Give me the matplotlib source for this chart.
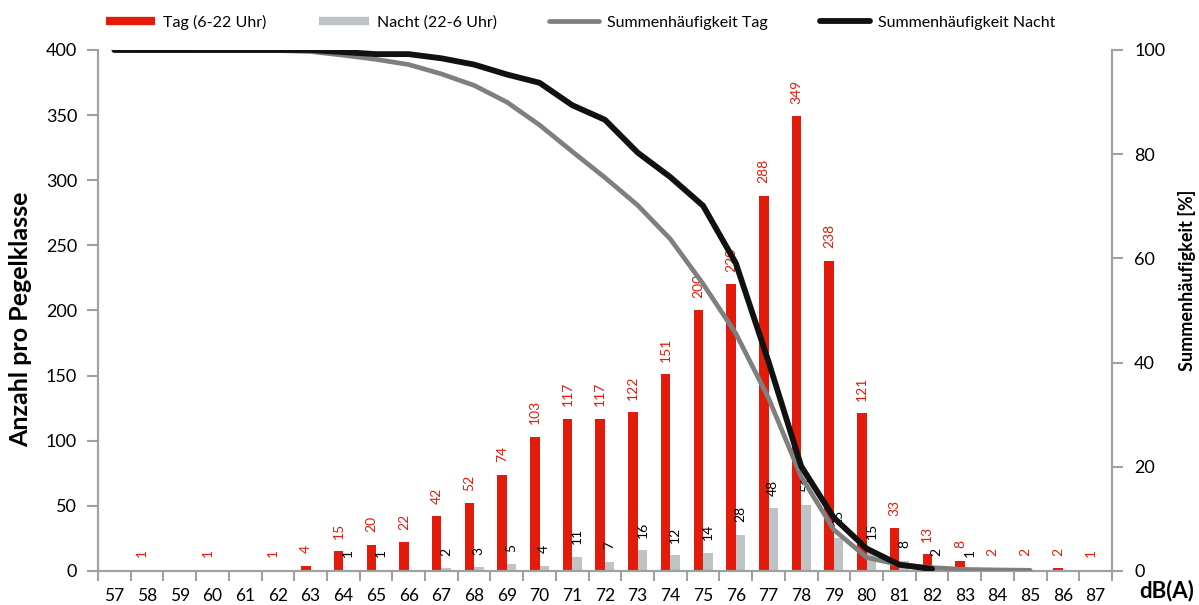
import numpy as np
import matplotlib
matplotlib.use("Agg")
import matplotlib.pyplot as plt
from matplotlib.lines import Line2D

plt.rcParams['font.family'] = ['Lato', 'DejaVu Sans']

# Pegelklassen dB(A)
classes = list(range(57, 88))

# Anzahl pro Pegelklasse
tag = [0, 1, 0, 1, 0, 1, 4, 15, 20, 22, 42, 52, 74, 103, 117, 117, 122, 151,
       200, 220, 288, 349, 238, 121, 33, 13, 8, 2, 2, 2, 1]
nacht = [0, 0, 0, 0, 0, 0, 0, 1, 1, 0, 2, 3, 5, 4, 11, 7, 16, 12,
         14, 28, 48, 51, 25, 15, 8, 2, 1, 0, 0, 0, 0]

# Summenhaeufigkeit [%]
sum_tag = [100, 99.96, 99.96, 99.9, 99.9, 99.9, 99.7, 99.0, 98.2, 97.2, 95.4,
           93.2, 90.0, 85.6, 80.5, 75.5, 70.2, 63.7, 55.1, 45.6, 33.2, 18.1,
           7.9, 2.6, 1.2, 0.65, 0.3, 0.2, 0.13]
sum_nacht = [100, 100, 100, 100, 100, 100, 100, 99.6, 99.2, 99.2, 98.4, 97.2,
             95.3, 93.7, 89.4, 86.6, 80.3, 75.6, 70.1, 59.1, 40.2, 20.1, 10.2,
             4.3, 1.2, 0.4]

RED = '#E31B0B'
LGRAY = '#BEC3C5'
DGRAY = '#7F7F7F'
BLACK = '#111111'
SPINE = '#A0A0A0'

fig = plt.figure(figsize=(11.99, 6.05), dpi=100)
ax = fig.add_axes([0.0817, 0.0562, 0.8457, 0.8612])
ax2 = ax.twinx()

x = np.array(classes)
w = 0.29
ax.bar(x - w / 2, tag, width=w, color=RED, zorder=2)
ax.bar(x + w / 2, nacht, width=w, color=LGRAY, zorder=2)

# bar labels (rotated)
for xi, v in zip(x, tag):
    if v > 0:
        ax.annotate(str(v), (xi - w / 2, v), xytext=(0, 9), textcoords='offset points',
                    rotation=90, ha='center', va='bottom', fontsize=10, color=RED)
for xi, v in zip(x, nacht):
    if v > 0:
        ax.annotate(str(v), (xi + w / 2, v), xytext=(0, 9), textcoords='offset points',
                    rotation=90, ha='center', va='bottom', fontsize=10, color='black')

ax2.plot(classes[:len(sum_tag)], sum_tag, color=DGRAY, lw=3.4,
         solid_joinstyle='round', solid_capstyle='round', zorder=3)
ax2.plot(classes[:len(sum_nacht)], sum_nacht, color=BLACK, lw=4.2,
         solid_joinstyle='round', solid_capstyle='round', zorder=4)

ax.set_xlim(56.5, 87.5)
ax.set_ylim(0, 400)
ax2.set_ylim(0, 100)

ax.set_yticks(range(0, 401, 50))
ax2.set_yticks(range(0, 101, 20))
ax.set_xticks(classes)
ax.set_xticks(np.arange(56.5, 88, 1), minor=True)

for a in (ax, ax2):
    for s in a.spines.values():
        s.set_color(SPINE)
        s.set_linewidth(1.5)
    a.spines['top'].set_visible(False)

ax.tick_params(axis='x', which='major', length=0, pad=12, labelsize=12.5)
ax.tick_params(axis='x', which='minor', length=7, width=1.5, color=SPINE)
ax.tick_params(axis='y', length=8, width=1.5, color=SPINE, pad=7, labelsize=13)
ax2.tick_params(axis='y', length=8, width=1.5, color=SPINE, pad=8, labelsize=13)

fig.text(0.017, 0.472, 'Anzahl pro Pegelklasse', rotation=90, ha='center', va='center',
         fontsize=18, fontweight='bold')
fig.text(0.990, 0.537, 'Summenhäufigkeit [%]', rotation=90, ha='center', va='center',
         fontsize=13, fontweight='bold')
fig.text(0.996, 0.013, 'dB(A)', ha='right', va='baseline', fontsize=16, fontweight='bold')

handles = [
    Line2D([], [], color=RED, lw=6, solid_capstyle='butt'),
    Line2D([], [], color=LGRAY, lw=6, solid_capstyle='butt'),
    Line2D([], [], color=DGRAY, lw=3.4, solid_capstyle='round'),
    Line2D([], [], color=BLACK, lw=4.2, solid_capstyle='round'),
]
labels = ['Tag (6-22 Uhr)', 'Nacht (22-6 Uhr)', 'Summenhäufigkeit Tag', 'Summenhäufigkeit Nacht']
fig.legend(handles, labels, loc='center', bbox_to_anchor=(0.484, 0.963), ncol=4,
           frameon=False, fontsize=11.5, handlelength=3.1, handletextpad=0.5,
           columnspacing=3.3)

fig.savefig('out.png', dpi=100)
